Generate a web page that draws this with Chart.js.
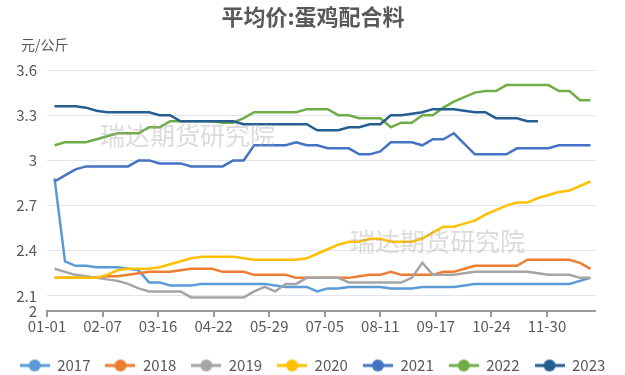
<!DOCTYPE html>
<html>
<head>
<meta charset="utf-8">
<script src="https://cdn.jsdelivr.net/npm/chart.js@4.4.0/dist/chart.umd.min.js"></script>
<style>
  html, body { margin: 0; padding: 0; background: #fff; }
  canvas { display: block; }
</style>
</head>
<body>
<canvas id="chart" width="625" height="375"></canvas>
<script>
// --- Data ---
const chartTitle = '平均价:蛋鸡配合料';
const unitLabel = '元/公斤';
const watermark = '瑞达期货研究院';

// day of year of each weekly observation
const weekDays = [5, 12, 19, 26, 33, 40, 47, 54, 61, 68, 75, 82, 89, 96, 103, 110, 117, 124, 131, 138,
  145, 152, 159, 166, 173, 180, 187, 194, 201, 208, 215, 222, 229, 236, 243, 250, 257, 264, 271, 278,
  285, 292, 299, 306, 313, 320, 327, 334, 341, 348, 355, 362];

const xTickDays = [0, 37, 74, 111, 148, 185, 222, 259, 296, 333];
const xTickLabels = ['01-01', '02-07', '03-16', '04-22', '05-29', '07-05', '08-11', '09-17', '10-24', '11-30'];
const yTickValues = [2, 2.1, 2.4, 2.7, 3, 3.3, 3.6];

const years = ['2017', '2018', '2019', '2020', '2021', '2022', '2023'];
const colors = ['#5B9BD5', '#ED7D31', '#A5A5A5', '#FFC000', '#4472C4', '#70AD47', '#255E91'];

const s2017 = [2.88, 2.33, 2.30, 2.30, 2.29, 2.29, 2.29, 2.28, 2.27, 2.19, 2.19, 2.17, 2.17, 2.17, 2.18, 2.18, 2.18, 2.18, 2.18, 2.18,
  2.18, 2.17, 2.16, 2.16, 2.16, 2.13, 2.15, 2.15, 2.16, 2.16, 2.16, 2.16, 2.15, 2.15, 2.15, 2.16, 2.16, 2.16, 2.16, 2.17,
  2.18, 2.18, 2.18, 2.18, 2.18, 2.18, 2.18, 2.18, 2.18, 2.18, 2.20, 2.22];
const s2018 = [2.22, 2.22, 2.22, 2.22, 2.22, 2.23, 2.23, 2.24, 2.25, 2.26, 2.26, 2.26, 2.27, 2.28, 2.28, 2.28, 2.26, 2.26, 2.26, 2.24,
  2.24, 2.24, 2.24, 2.22, 2.22, 2.22, 2.22, 2.22, 2.22, 2.23, 2.24, 2.24, 2.26, 2.24, 2.24, 2.24, 2.24, 2.26, 2.26, 2.28,
  2.30, 2.30, 2.30, 2.30, 2.30, 2.34, 2.34, 2.34, 2.34, 2.34, 2.32, 2.28];
const s2019 = [2.28, 2.26, 2.24, 2.23, 2.22, 2.21, 2.20, 2.18, 2.15, 2.13, 2.13, 2.13, 2.13, 2.09, 2.09, 2.09, 2.09, 2.09, 2.09, 2.13,
  2.16, 2.13, 2.18, 2.18, 2.22, 2.22, 2.22, 2.22, 2.19, 2.19, 2.19, 2.19, 2.19, 2.19, 2.22, 2.32, 2.24, 2.24, 2.24, 2.25,
  2.26, 2.26, 2.26, 2.26, 2.26, 2.26, 2.25, 2.24, 2.24, 2.24, 2.22, 2.22];
const s2020 = [2.22, 2.22, 2.22, 2.22, 2.22, 2.24, 2.27, 2.28, 2.28, 2.28, 2.29, 2.31, 2.33, 2.35, 2.36, 2.36, 2.36, 2.36, 2.35, 2.34,
  2.34, 2.34, 2.34, 2.34, 2.35, 2.38, 2.41, 2.44, 2.46, 2.46, 2.48, 2.48, 2.46, 2.46, 2.46, 2.48, 2.52, 2.56, 2.56, 2.58,
  2.60, 2.64, 2.67, 2.70, 2.72, 2.72, 2.75, 2.77, 2.79, 2.80, 2.83, 2.86];
const s2021 = [2.86, 2.90, 2.94, 2.96, 2.96, 2.96, 2.96, 2.96, 3.00, 3.00, 2.98, 2.98, 2.98, 2.96, 2.96, 2.96, 2.96, 3.00, 3.00, 3.10,
  3.10, 3.10, 3.10, 3.12, 3.10, 3.10, 3.08, 3.08, 3.08, 3.04, 3.04, 3.06, 3.12, 3.12, 3.12, 3.10, 3.14, 3.14, 3.18, 3.11,
  3.04, 3.04, 3.04, 3.04, 3.08, 3.08, 3.08, 3.08, 3.10, 3.10, 3.10, 3.10];
const s2022 = [3.10, 3.12, 3.12, 3.12, 3.14, 3.16, 3.18, 3.18, 3.18, 3.22, 3.22, 3.26, 3.26, 3.26, 3.26, 3.26, 3.25, 3.25, 3.28, 3.32,
  3.32, 3.32, 3.32, 3.32, 3.34, 3.34, 3.34, 3.30, 3.30, 3.28, 3.28, 3.28, 3.22, 3.25, 3.25, 3.30, 3.30, 3.35, 3.39, 3.42,
  3.45, 3.46, 3.46, 3.50, 3.50, 3.50, 3.50, 3.50, 3.46, 3.46, 3.40, 3.40];
const s2023 = [3.36, 3.36, 3.36, 3.35, 3.33, 3.32, 3.32, 3.32, 3.32, 3.32, 3.30, 3.30, 3.26, 3.26, 3.26, 3.26, 3.26, 3.26, 3.24, 3.24,
  3.24, 3.24, 3.24, 3.24, 3.24, 3.20, 3.20, 3.20, 3.22, 3.22, 3.24, 3.24, 3.30, 3.30, 3.31, 3.32, 3.34, 3.34, 3.34, 3.33,
  3.32, 3.32, 3.28, 3.28, 3.28, 3.26, 3.26];

const seriesValues = [s2017, s2018, s2019, s2020, s2021, s2022, s2023];

// --- Helpers ---
const FONT = '"Noto Sans CJK SC", "Noto Sans", sans-serif';
const TEXT_COLOR = '#595959';

// legend marker: short line with a dot in the middle
function makeMarker(color) {
  const c = document.createElement('canvas');
  c.width = 30; c.height = 14;
  const g = c.getContext('2d');
  g.strokeStyle = color;
  g.lineWidth = 3;
  g.beginPath(); g.moveTo(0, 7); g.lineTo(30, 7); g.stroke();
  g.fillStyle = color;
  g.beginPath(); g.arc(15, 7, 6, 0, Math.PI * 2); g.fill();
  return c;
}

const datasets = years.map((yr, i) => ({
  label: yr,
  data: seriesValues[i].map((v, k) => ({ x: weekDays[k], y: v })),
  borderColor: colors[i],
  backgroundColor: colors[i],
  borderWidth: 2.5,
  pointRadius: 0,
  pointHoverRadius: 0,
  pointStyle: makeMarker(colors[i]),
  tension: 0,
  fill: false,
  order: years.length - i   // later years on top
}));

// title, unit and watermark text
const textPlugin = {
  id: 'texts',
  afterDatasetsDraw(chart) {
    const ctx = chart.ctx;
    ctx.save();
    ctx.fillStyle = 'rgba(165,165,165,0.4)';
    ctx.font = '25px ' + FONT;
    ctx.textBaseline = 'middle';
    ctx.textAlign = 'left';
    ctx.fillText(watermark, 100, 135);
    ctx.fillText(watermark, 350, 241);
    ctx.restore();
  },
  afterDraw(chart) {
    const ctx = chart.ctx;
    ctx.save();
    ctx.fillStyle = TEXT_COLOR;
    ctx.textBaseline = 'middle';
    ctx.textAlign = 'center';
    ctx.font = 'bold 22px ' + FONT;
    ctx.fillText(chartTitle, 313, 17);
    ctx.textAlign = 'left';
    ctx.font = '14px ' + FONT;
    ctx.fillText(unitLabel, 21, 45);
    ctx.restore();
  }
};

// --- Chart ---
Chart.defaults.font.family = FONT;
Chart.defaults.color = TEXT_COLOR;

new Chart(document.getElementById('chart').getContext('2d'), {
  type: 'line',
  data: { datasets },
  options: {
    responsive: false,
    animation: false,
    events: [],
    layout: { padding: { top: 70, right: 0, bottom: -8, left: 0 } },
    plugins: {
      title: { display: false },
      tooltip: { enabled: false },
      legend: {
        position: 'bottom',
        labels: {
          usePointStyle: true,
          pointStyleWidth: 30,
          padding: 15,
          color: TEXT_COLOR,
          font: { size: 15 },
          sort: (a, b) => a.datasetIndex - b.datasetIndex
        }
      }
    },
    scales: {
      x: {
        type: 'linear',
        min: 0,
        max: 365,
        afterFit: s => { s.height = 32; },
        afterBuildTicks: s => { s.ticks = xTickDays.map(v => ({ value: v })); },
        ticks: {
          padding: 0,
          font: { size: 15 },
          color: TEXT_COLOR,
          maxRotation: 0,
          autoSkip: false,
          callback: v => xTickLabels[xTickDays.indexOf(v)]
        },
        grid: { drawOnChartArea: false, tickLength: 6, color: '#9a9a9a', lineWidth: 2 },
        border: { color: '#9a9a9a', width: 2 }
      },
      y: {
        min: 2,
        max: 3.6,
        afterFit: s => { s.width = 47; },
        afterBuildTicks: s => { s.ticks = yTickValues.map(v => ({ value: v })); },
        ticks: {
          padding: 10,
          font: { size: 15 },
          color: TEXT_COLOR,
          callback: v => String(v)
        },
        grid: { color: '#dfe4ee', lineWidth: 1, drawTicks: false },
        border: { display: false }
      },
      // empty right margin, keeps the legend at full width
      yRight: {
        position: 'right',
        display: true,
        afterFit: s => { s.width = 30; },
        ticks: { display: false },
        grid: { display: false },
        border: { display: false }
      }
    }
  },
  plugins: [textPlugin]
});
</script>
</body>
</html>
